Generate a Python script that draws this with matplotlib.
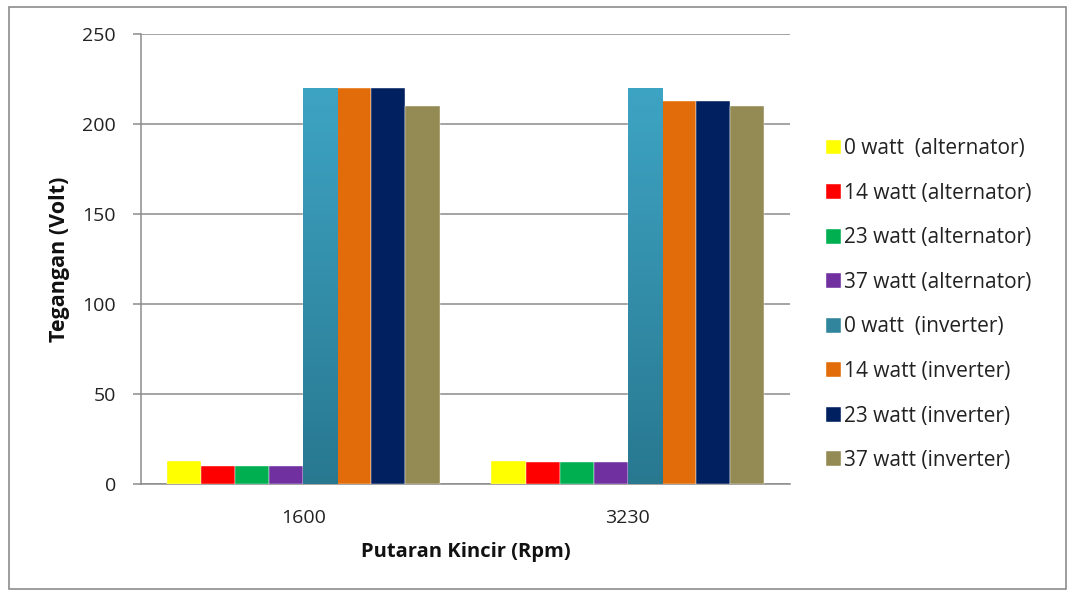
import numpy as np
import matplotlib
matplotlib.use("Agg")
import matplotlib.pyplot as plt
from matplotlib.patches import Rectangle
from matplotlib.colors import LinearSegmentedColormap

plt.rcParams["font.family"] = ["Open Sans", "DejaVu Sans"]

# rotation speeds and measured voltages per load
rpm = ["1600", "3230"]
series_names = [
    "0 watt  (alternator)",
    "14 watt (alternator)",
    "23 watt (alternator)",
    "37 watt (alternator)",
    "0 watt  (inverter)",
    "14 watt (inverter)",
    "23 watt (inverter)",
    "37 watt (inverter)",
]
alt_0w = [12.5, 12.5]
alt_14w = [10, 12]
alt_23w = [10, 12]
alt_37w = [10, 12]
inv_0w = [220, 220]
inv_14w = [220, 213]
inv_23w = [220, 213]
inv_37w = [210, 210]
values = [alt_0w, alt_14w, alt_23w, alt_37w, inv_0w, inv_14w, inv_23w, inv_37w]

colors = ["#ffff00", "#ff0000", "#00b050", "#7030a0",
          "#31859c", "#e36c0a", "#002060", "#948a54"]

fig = plt.figure(figsize=(10.7, 5.94), dpi=100)
fig.patches.append(Rectangle((0.008, 0.008), 0.988, 0.98, transform=fig.transFigure,
                             fill=False, edgecolor="#8c8c8c", linewidth=1.2))
ax = fig.add_axes([0.1318, 0.1852, 0.6065, 0.7576])

x = np.arange(len(rpm))
n = len(values)
group_w = 0.84
bw = group_w / n
teal_cmap = LinearSegmentedColormap.from_list("teal", ["#287890", "#3ea4c4"])
for i, (vals, c, name) in enumerate(zip(values, colors, series_names)):
    pos = x - group_w / 2 + bw * (i + 0.5)
    bars = ax.bar(pos, vals, width=bw, color=c, label=name, zorder=3,
                  edgecolor="white", linewidth=0.3)
    # teal series is shaded from light top to darker bottom
    if i == 4:
        for b in bars:
            grad = np.linspace(0, 1, 256).reshape(-1, 1)
            im = ax.imshow(grad, cmap=teal_cmap, aspect="auto", origin="lower",
                           extent=[b.get_x(), b.get_x() + b.get_width(), 0, b.get_height()],
                           zorder=3.5)
            im.set_clip_path(b)

ax.set_xlim(-0.5, 1.5)
ax.set_ylim(0, 250)
ax.set_yticks(np.arange(0, 251, 50))
ax.set_xticks(x)
ax.set_xticklabels(rpm)
ax.grid(axis="y", color="#8c8c8c", linewidth=1.1, zorder=0)
for s in ["top", "right"]:
    ax.spines[s].set_visible(False)
for s in ["left", "bottom"]:
    ax.spines[s].set_color("#8c8c8c")
    ax.spines[s].set_linewidth(1.1)
ax.tick_params(axis="y", length=6, width=1.1, color="#8c8c8c", labelsize=14, pad=12,
               labelcolor="#222222")
ax.tick_params(axis="x", length=0, labelsize=14, pad=18, labelcolor="#222222")

ax.set_ylabel("Tegangan (Volt)", fontsize=15.5, fontweight="bold", labelpad=9,
              color="#111111")
ax.set_xlabel("Putaran Kincir (Rpm)", fontsize=14.5, fontweight="bold", labelpad=11,
              color="#111111")

leg = fig.legend(loc="center left", bbox_to_anchor=(0.772, 0.487), frameon=False,
                 fontsize=15, handlelength=0.72, handleheight=0.72, handletextpad=0.15,
                 labelspacing=1.13, borderpad=0, borderaxespad=0)
for t in leg.get_texts():
    t.set_color("#222222")

fig.savefig("out.png", dpi=100)
